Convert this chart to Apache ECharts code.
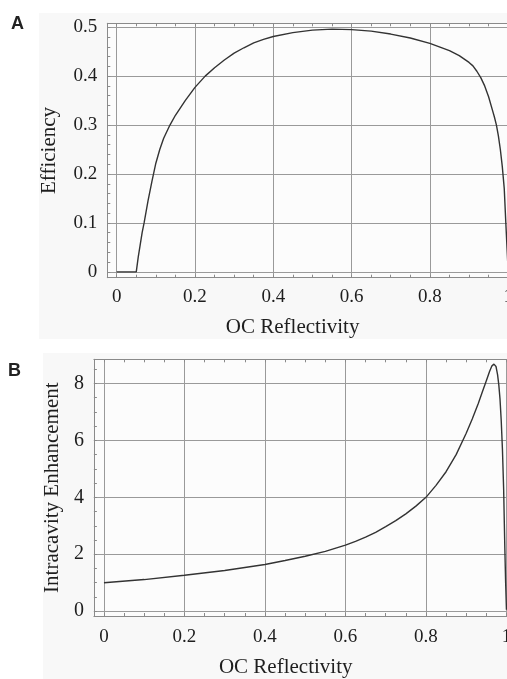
<!DOCTYPE html>
<html>
<head>
<meta charset="utf-8">
<script src="https://cdn.jsdelivr.net/npm/echarts@6/dist/echarts.min.js"></script>
<style>html,body{margin:0;padding:0;background:#fff;overflow:hidden;width:507px;height:679px;}#c{width:540px;height:679px;}</style>
</head>
<body>
<div id="c"></div>
<script>
// Panel A: efficiency vs output-coupler reflectivity
const reflA = [0, 0.05, 0.055, 0.06, 0.065, 0.07, 0.08, 0.09, 0.1, 0.11, 0.12, 0.136, 0.15, 0.175, 0.2, 0.226, 0.25, 0.275, 0.3, 0.325, 0.35, 0.375, 0.4, 0.45, 0.5, 0.55, 0.6, 0.65, 0.7, 0.75, 0.8, 0.85, 0.875, 0.9, 0.91, 0.92, 0.93, 0.94, 0.95, 0.96, 0.965, 0.97, 0.975, 0.98, 0.985, 0.99, 0.994, 0.997, 1.0];
const efficiency = [0, 0, 0.03, 0.055, 0.08, 0.1, 0.145, 0.185, 0.222, 0.25, 0.273, 0.30, 0.32, 0.35, 0.377, 0.40, 0.417, 0.433, 0.447, 0.458, 0.468, 0.475, 0.481, 0.489, 0.494, 0.496, 0.495, 0.492, 0.486, 0.478, 0.467, 0.452, 0.442, 0.428, 0.421, 0.41, 0.397, 0.38, 0.358, 0.33, 0.316, 0.30, 0.278, 0.25, 0.215, 0.17, 0.10, 0.05, 0];
// Panel B: intracavity enhancement vs reflectivity
const reflB = [0, 0.1, 0.2, 0.3, 0.4, 0.45, 0.5, 0.55, 0.6, 0.625, 0.65, 0.675, 0.7, 0.725, 0.75, 0.775, 0.8, 0.825, 0.85, 0.875, 0.9, 0.915, 0.93, 0.94, 0.95, 0.958, 0.964, 0.969, 0.974, 0.978, 0.981, 0.984, 0.987, 0.99, 0.993, 0.996, 0.998, 1.0];
const enhancement = [1.0, 1.11, 1.26, 1.43, 1.64, 1.78, 1.93, 2.1, 2.32, 2.45, 2.6, 2.77, 2.97, 3.18, 3.42, 3.69, 4.0, 4.42, 4.9, 5.5, 6.25, 6.75, 7.3, 7.7, 8.1, 8.42, 8.62, 8.68, 8.6, 8.3, 7.95, 7.45, 6.7, 5.7, 4.3, 2.2, 1.0, 0.05];
// Tick values
const xMajor = [0, 0.2, 0.4, 0.6, 0.8, 1];
const xMinor = [0, 0.05, 0.1, 0.15, 0.2, 0.25, 0.3, 0.35, 0.4, 0.45, 0.5, 0.55, 0.6, 0.65, 0.7, 0.75, 0.8, 0.85, 0.9, 0.95, 1];
const yMajorA = [0, 0.1, 0.2, 0.3, 0.4, 0.5];
const yMinorA = [0, 0.02, 0.04, 0.06, 0.08, 0.1, 0.12, 0.14, 0.16, 0.18, 0.2, 0.22, 0.24, 0.26, 0.28, 0.3, 0.32, 0.34, 0.36, 0.38, 0.4, 0.42, 0.44, 0.46, 0.48, 0.5];
const yMajorB = [0, 2, 4, 6, 8];
const yMinorB = [0, 0.5, 1, 1.5, 2, 2.5, 3, 3.5, 4, 4.5, 5, 5.5, 6, 6.5, 7, 7.5, 8, 8.5];

const SERIF = 'Liberation Serif';
const frameColor = '#8a8a8a';
const gridColor = '#9a9a9a';
const textColor = '#1e1e1e';
const fmt = v => String(+(+v).toFixed(2));

function mainX(g, min, max, name, padRight, labMargin, gap) {
  return {
    type: 'value', gridIndex: g, min: min, max: max, position: 'bottom',
    axisLine: { show: true, onZero: false, lineStyle: { color: frameColor, width: 1 } },
    axisTick: { show: false, customValues: xMajor },
    splitLine: { show: true, lineStyle: { color: gridColor, width: 1 } },
    axisLabel: { customValues: xMajor, formatter: fmt, margin: labMargin, color: textColor, fontFamily: SERIF, fontSize: 19 },
    name: name, nameLocation: 'middle', nameGap: gap,
    nameTextStyle: { color: textColor, fontFamily: SERIF, fontSize: 21, padding: [0, padRight, 0, 0] }
  };
}
function tickX(g, min, max, pos) {
  return {
    type: 'value', gridIndex: g, min: min, max: max, position: pos,
    axisLine: { show: pos === 'top', onZero: false, lineStyle: { color: frameColor, width: 1 } },
    axisTick: { show: true, inside: true, length: 3, customValues: xMinor, lineStyle: { color: frameColor } },
    splitLine: { show: false }, axisLabel: { show: false }
  };
}
function mainY(g, min, max, majors, name, gap, fs) {
  return {
    type: 'value', gridIndex: g, min: min, max: max, position: 'left',
    axisLine: { show: true, onZero: false, lineStyle: { color: frameColor, width: 1 } },
    axisTick: { show: false, customValues: majors },
    splitLine: { show: true, lineStyle: { color: gridColor, width: 1 } },
    axisLabel: { customValues: majors, formatter: fmt, margin: 10, color: textColor, fontFamily: SERIF, fontSize: fs },
    name: name, nameLocation: 'middle', nameGap: gap,
    nameTextStyle: { color: textColor, fontFamily: SERIF, fontSize: 21 }
  };
}
function tickY(g, min, max, minors) {
  return {
    type: 'value', gridIndex: g, min: min, max: max, position: 'left',
    axisLine: { show: false, onZero: false },
    axisTick: { show: true, inside: true, length: 3, customValues: minors, lineStyle: { color: frameColor } },
    splitLine: { show: false }, axisLabel: { show: false }
  };
}

const chart = echarts.init(document.getElementById('c'), null, { renderer: 'canvas' });
chart.setOption({
  animation: false,
  backgroundColor: '#ffffff',
  graphic: [
    { type: 'rect', z: -10, shape: { x: 39, y: 13, width: 500, height: 326 }, style: { fill: '#f8f8f8' } },
    { type: 'rect', z: -10, shape: { x: 43, y: 353, width: 500, height: 330 }, style: { fill: '#f8f8f8' } },
    { type: 'text', left: 11, top: 15, style: { text: 'A', font: 'bold 18px "Liberation Sans"', fill: '#222' } },
    { type: 'text', left: 8, top: 362, style: { text: 'B', font: 'bold 18px "Liberation Sans"', fill: '#222' } }
  ],
  grid: [
    { left: 107.3, top: 23.3, width: 408.7, height: 254.4, show: true, backgroundColor: '#fcfcfc', borderWidth: 0 },
    { left: 93.9, top: 359.3, width: 420.6, height: 260.7, show: true, backgroundColor: '#fcfcfc', borderWidth: 0 }
  ],
  xAxis: [
    mainX(0, -0.024, 1.02, 'OC Reflectivity', 38, 10, 39),
    tickX(0, -0.024, 1.02, 'bottom'),
    tickX(0, -0.024, 1.02, 'top'),
    mainX(1, -0.025, 1.02, 'OC Reflectivity', 37, 12, 41),
    tickX(1, -0.025, 1.02, 'bottom'),
    tickX(1, -0.025, 1.02, 'top')
  ],
  yAxis: [
    mainY(0, -0.012, 0.508, yMajorA, 'Efficiency', 47, 19),
    tickY(0, -0.012, 0.508, yMinorA),
    mainY(1, -0.17, 8.85, yMajorB, 'Intracavity Enhancement', 30, 20),
    tickY(1, -0.17, 8.85, yMinorB)
  ],
  series: [
    { type: 'line', xAxisIndex: 0, yAxisIndex: 0, showSymbol: false, symbol: 'none',
      data: reflA.map((r, i) => [r, efficiency[i]]),
      lineStyle: { color: '#333', width: 1.4 }, smooth: false, z: 5 },
    { type: 'line', xAxisIndex: 3, yAxisIndex: 2, showSymbol: false, symbol: 'none',
      data: reflB.map((r, i) => [r, enhancement[i]]),
      lineStyle: { color: '#333', width: 1.4 }, smooth: false, z: 5 }
  ]
});
</script>
</body>
</html>
